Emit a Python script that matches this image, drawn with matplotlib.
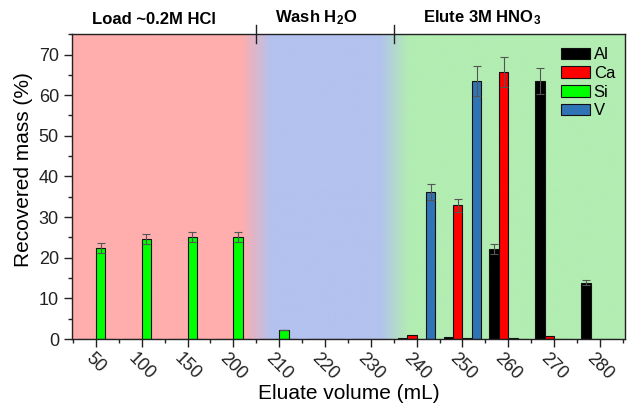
import numpy as np
import matplotlib
matplotlib.use("Agg")
import matplotlib.pyplot as plt
from matplotlib.colors import to_rgb
from matplotlib.transforms import offset_copy

plt.rcParams['font.family'] = ['Liberation Sans', 'DejaVu Sans']
plt.rcParams['mathtext.default'] = 'regular'

categories = ["50", "100", "150", "200", "210", "220", "230", "240", "250", "260", "270", "280"]
al = [0, 0, 0, 0, 0, 0, 0, 0.2, 0.4, 22.1, 63.5, 13.9]
ca = [0, 0, 0, 0, 0, 0, 0, 0.9, 32.9, 65.7, 0.7, 0]
si = [22.4, 24.6, 25.1, 25.1, 2.2, 0, 0, 0, 0.2, 0.2, 0.1, 0]
v = [0, 0, 0, 0, 0, 0, 0, 36.2, 63.5, 0, 0, 0]
al_err = [0, 0, 0, 0, 0, 0, 0, 0, 0, 1.3, 3.3, 0.6]
ca_err = [0, 0, 0, 0, 0, 0, 0, 0, 1.6, 3.7, 0, 0]
si_err = [1.2, 1.3, 1.2, 1.3, 0.1, 0, 0, 0, 0, 0, 0, 0]
v_err = [0, 0, 0, 0, 0, 0, 0, 2.0, 3.7, 0, 0, 0]
series_names = ["Al", "Ca", "Si", "V"]
series_colors = ["#000000", "#FF0000", "#00FF00", "#2F74B5"]
phases = ["Load ~0.2M HCl", "Wash H$_2$O", "Elute 3M HNO$_3$"]

fig = plt.figure(figsize=(6.27, 4.07), dpi=100)
ax = fig.add_axes([0.115, 0.167, 0.882, 0.749])

x = np.arange(len(categories))
xlim = (-0.52, 11.55)
ax.set_xlim(*xlim)
ax.set_ylim(0, 75)

# background gradient
pink = np.array(to_rgb("#FFADAD"))
blue = np.array(to_rgb("#B3C2EE"))
green = np.array(to_rgb("#B2EDB2"))
xs = np.linspace(xlim[0], xlim[1], 1200)
def blend(xv):
    w = 0.32
    if xv < 3.5 - w:
        return pink
    if xv < 3.5 + w:
        t = (xv - (3.5 - w)) / (2 * w)
        return pink * (1 - t) + blue * t
    if xv < 6.5 - w:
        return blue
    if xv < 6.5 + w:
        t = (xv - (6.5 - w)) / (2 * w)
        return blue * (1 - t) + green * t
    return green
img = np.array([blend(xv) for xv in xs])[None, :, :]
ax.imshow(img, extent=[xlim[0], xlim[1], 0, 75], aspect='auto', zorder=0, interpolation='bilinear')

w = 0.205
data = [al, ca, si, v]
errs = [al_err, ca_err, si_err, v_err]
for k, (vals, er, col, nm) in enumerate(zip(data, errs, series_colors, series_names)):
    pos = x + (k - 1.5) * w
    ax.bar(pos, vals, width=w, color=col, edgecolor='#111111', linewidth=0.8, label=nm, zorder=2)
    er = np.array(er)
    m = er > 0
    ax.errorbar(pos[m], np.array(vals)[m], yerr=er[m], fmt='none', ecolor='#555555',
                elinewidth=0.8, capsize=3, capthick=0.8, zorder=3)

ax.set_xticks(x)
ax.set_xticklabels(categories, rotation=-45, ha='center', fontsize=13)
ax.set_xticks(np.arange(-0.5, 11.6, 1.0), minor=True)
ax.set_yticks(np.arange(0, 71, 10))
ax.set_yticks(np.arange(0, 76, 5), minor=True)
ax.tick_params(axis='both', which='major', direction='out', length=6, width=1, labelsize=13, colors='#222222')
ax.tick_params(axis='both', which='minor', direction='out', length=3, width=1, colors='#222222')
ax.tick_params(axis='x', pad=2)
ax.set_xlabel("Eluate volume (mL)", fontsize=15, labelpad=0.5)
ax.set_ylabel("Recovered mass (%)", fontsize=15)
ax.yaxis.set_label_coords(-0.07, 0.557)
for s in ax.spines.values():
    s.set_linewidth(1.0)
    s.set_color('#222222')

# phase header
trans = ax.get_xaxis_transform()
for sep in [3.5, 6.5]:
    ax.plot([sep, sep], [0.97, 1.03], transform=trans, color='#222222', lw=1.0,
            clip_on=False, zorder=5)
centers = [1.26, 4.8, 8.43]
ttrans = offset_copy(trans, fig=fig, x=0, y=7, units='dots')
for c, t in zip(centers, phases):
    ax.text(c, 1.0, t, transform=ttrans, ha='center', va='bottom', fontsize=12, fontweight='bold')

ax.legend(loc='upper right', bbox_to_anchor=(1.0, 0.99), frameon=False, fontsize=12,
          handlelength=1.75, handleheight=0.7, handletextpad=0.2, labelspacing=0.22,
          borderaxespad=0.2)

fig.savefig("out.png", dpi=100)
